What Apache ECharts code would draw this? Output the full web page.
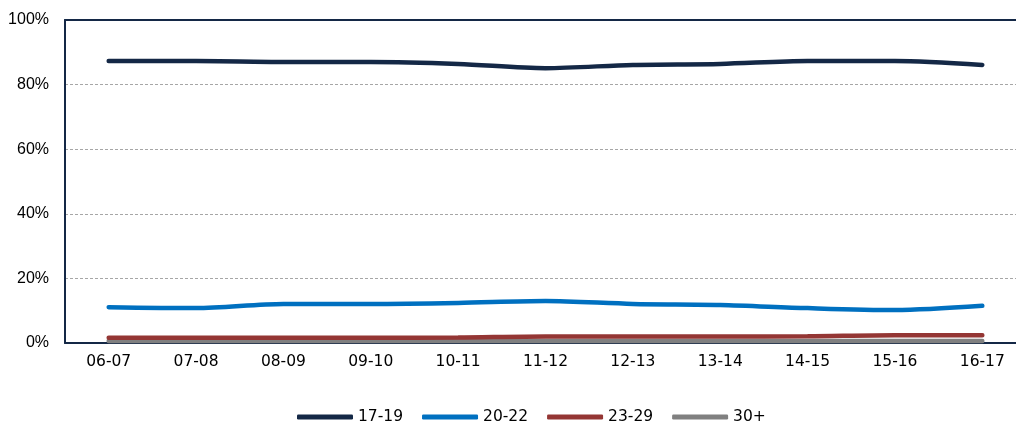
<!DOCTYPE html>
<html>
<head>
<meta charset="utf-8">
<script src="https://cdn.jsdelivr.net/npm/echarts@6/dist/echarts.min.js"></script>
<style>html,body{margin:0;padding:0;background:#fff;overflow:hidden;}#c{width:1027px;height:421px;}</style>
</head>
<body>
<div id="c"></div>
<script>
const categories = ['06-07','07-08','08-09','09-10','10-11','11-12','12-13','13-14','14-15','15-16','16-17'];
const seriesNames = ['17-19','20-22','23-29','30+'];
const s1719 = [87.3, 87.3, 87.0, 87.0, 86.4, 85.1, 86.1, 86.4, 87.3, 87.3, 86.1];
const s2022 = [11.1, 10.8, 12.1, 12.1, 12.4, 13.0, 12.1, 11.8, 10.8, 10.2, 11.5];
const s2329 = [1.6, 1.6, 1.6, 1.6, 1.7, 2.0, 2.0, 2.0, 2.1, 2.4, 2.4];
const s30p  = [0.6, 0.6, 0.6, 0.6, 0.6, 0.6, 0.6, 0.6, 0.6, 0.6, 0.6];
const yTicks = [0, 20, 40, 60, 80, 100];
const colors = ['#142846', '#0070c0', '#943634', '#808080'];
const frame = {show: true, lineStyle: {color: '#142846', width: 2}};

const chart = echarts.init(document.getElementById('c'));
const values = [s1719, s2022, s2329, s30p];
chart.setOption({
  animation: false,
  grid: {left: 65, right: 1, top: 20, bottom: 78},
  legend: {
    top: 404, left: 292, icon: 'roundRect', itemWidth: 56, itemHeight: 5, itemGap: 19,
    textStyle: {fontFamily: 'DejaVu Sans', fontSize: 15.5, color: '#000'},
    data: seriesNames
  },
  xAxis: [{
    type: 'category', data: categories, boundaryGap: true,
    axisLine: frame, axisTick: {show: false},
    axisLabel: {fontFamily: 'DejaVu Sans', fontSize: 15.5, color: '#000', margin: 11, interval: 0}
  }, {
    type: 'category', data: categories, position: 'top', boundaryGap: true,
    axisLine: frame, axisTick: {show: false}, axisLabel: {show: false}
  }],
  yAxis: {
    type: 'value', min: yTicks[0], max: yTicks[yTicks.length-1], interval: 20,
    axisLine: frame, axisTick: {show: false},
    axisLabel: {fontFamily: 'Liberation Sans', fontSize: 16, color: '#000', margin: 16, formatter: v => v + '%'},
    splitLine: {show: true, lineStyle: {color: '#a6a6a6', type: [3, 2], width: 1}}
  },
  series: seriesNames.map((n, i) => ({
    name: n, type: 'line', data: values[i], smooth: 0.3, showSymbol: false, symbol: 'none',
    color: colors[i],
    lineStyle: {width: 4.5, color: colors[i], cap: 'round'},
    z: 10 - i
  }))
});
</script>
</body>
</html>
